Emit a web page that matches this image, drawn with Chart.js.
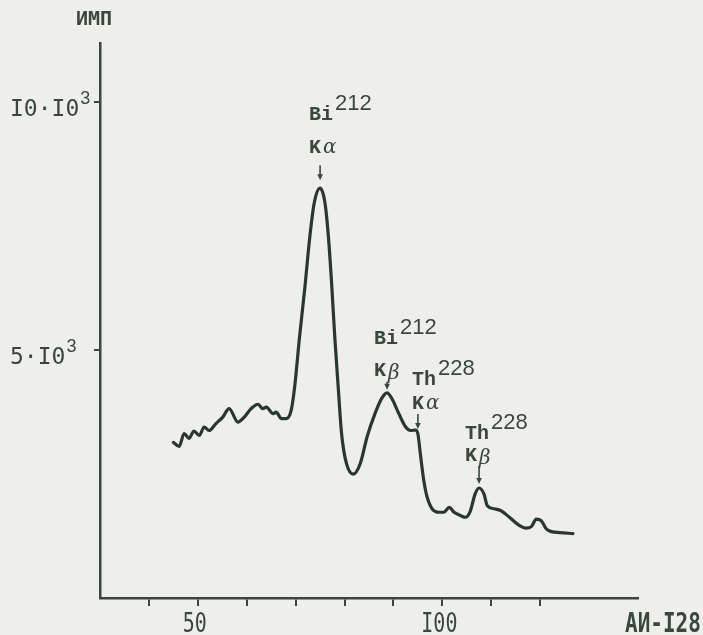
<!DOCTYPE html>
<html>
<head>
<meta charset="utf-8">
<script src="https://cdn.jsdelivr.net/npm/chart.js@4.4.1/dist/chart.umd.min.js"></script>
<style>
  html, body { margin: 0; padding: 0; background: #eeeeec; }
  canvas { display: block; }
</style>
</head>
<body>
<canvas id="spec" width="703" height="635"></canvas>
<script>
'use strict';

/* ──────────────────────────────────────────
   Spectrum (channel → counts)
   ────────────────────────────────────────── */
const energy = [
  45.0, 46.2, 47.2, 48.2, 49.2, 50.3, 51.3, 52.3, 53.7, 55.1,
  56.4, 58.2, 59.5, 60.9, 62.3, 63.3, 64.0, 65.4, 66.0, 67.1,
  68.1, 69.1, 69.8, 70.8, 71.9, 72.9, 73.8, 75.0, 76.0, 76.7,
  77.4, 78.0, 78.7, 79.4, 80.4, 81.8, 83.2, 84.6, 86.3, 87.6,
  88.7, 89.7, 91.1, 92.5, 93.5, 94.5, 95.0, 95.5, 96.2, 96.9,
  97.9, 99.3, 100.3, 101.4, 102.4, 103.8, 104.7, 105.7, 106.7, 107.5,
  108.5, 109.2, 110.6, 112.0, 113.7, 115.8, 117.1, 118.2, 119.2, 120.2,
  121.3, 122.3, 124.0, 126.7
];
const counts = [
  3140, 3060, 3320, 3220, 3370, 3280, 3450, 3380, 3520, 3650,
  3820, 3550, 3650, 3820, 3910, 3820, 3850, 3720, 3750, 3620,
  3620, 3790, 4260, 5270, 6280, 7290, 7970, 8270, 7970, 7290,
  6280, 5270, 4260, 3310, 2710, 2500, 2710, 3250, 3740, 4030,
  4140, 4020, 3720, 3450, 3380, 3390, 3310, 2910, 2370, 2030,
  1800, 1730, 1730, 1830, 1730, 1660, 1630, 1750, 2100, 2220,
  2100, 1860, 1800, 1760, 1630, 1460, 1410, 1440, 1590, 1560,
  1390, 1340, 1320, 1300
];

const xTickValues  = [40, 50, 60, 70, 80, 90, 100, 110, 120];
const xLabelValues = [50, 100];
const xLabelTexts  = ['50', 'I00'];
const yTickValues  = [5000, 10000];
const yLabelTexts  = ['5·I0', 'I0·I0'];
const yLabelPower  = '3';

/* peak annotations */
const peakEnergy  = [75.0, 88.7, 95.0, 107.5];
const peakIsotope = ['Bi', 'Bi', 'Th', 'Th'];
const peakMass    = ['212', '212', '228', '228'];
const peakLine    = ['α', 'β', 'α', 'β'];

/* layout of each annotation (px): text offset, arrow gap/length, line spacing */
const annotLayout = [
  { dx: -11, gap: 8, len: 15, gGap: 12, iGap: 33 },
  { dx: -13, gap: 3, len: 8,  gGap: 6,  iGap: 32 },
  { dx: -6,  gap: 5, len: 15, gGap: 5,  iGap: 24 },
  { dx: -14, gap: 4, len: 18, gGap: 5,  iGap: 22 }
];

const INK   = '#3a473b';
const CURVE = '#2a372c';

const F_TICK  = '23px "DejaVu Sans Mono"';
const F_XTICK = '20px "DejaVu Sans Mono"';
const F_AXIS  = 'bold 21px "DejaVu Sans Mono"';
const F_POW   = '18px "Liberation Sans"';
const F_ANN   = 'bold 20px "Liberation Mono"';
const F_SUP   = '22px "Liberation Sans"';
const F_GREEK = 'italic 20px "DejaVu Serif"';

function put(ctx, s, x, y, font, align, sy) {
  ctx.save();
  ctx.font = font;
  ctx.textAlign = align || 'left';
  ctx.translate(x, y);
  ctx.scale(1, sy || 1);
  ctx.fillText(s, 0, 0);
  ctx.restore();
}

/* ──────────────────────────────────────────
   Labels + arrows, placed through the scales
   ────────────────────────────────────────── */
const inkPlugin = {
  id: 'ink',
  afterDraw(chart) {
    const { ctx, chartArea: a, scales: { x, y } } = chart;
    ctx.save();
    ctx.fillStyle = INK;
    ctx.strokeStyle = INK;
    ctx.textBaseline = 'alphabetic';

    // y tick labels
    yTickValues.forEach((v, i) => {
      const py = y.getPixelForValue(v);
      ctx.font = F_TICK;
      const w = ctx.measureText(yLabelTexts[i]).width;
      put(ctx, yLabelTexts[i], 10, py + 14, F_TICK);
      put(ctx, yLabelPower, 11 + w, py + 2, F_POW);
    });

    // x tick labels
    xLabelValues.forEach((v, i) => {
      put(ctx, xLabelTexts[i], x.getPixelForValue(v) - 3, a.bottom + 34, F_XTICK, 'center', 1.35);
    });

    // axis titles
    put(ctx, 'ИМП', a.left - 6, a.top - 18, 'bold 20px "DejaVu Sans Mono"', 'center');
    put(ctx, 'АИ-I28', a.right - 13, a.bottom + 34, F_AXIS, 'left', 1.3);

    // peak markers
    peakEnergy.forEach((e, i) => {
      const k = energy.indexOf(e);
      const px = x.getPixelForValue(e);
      const py = y.getPixelForValue(counts[k]);
      const L = annotLayout[i];
      const tip = py - L.gap, tail = tip - L.len;

      ctx.lineWidth = 1.6;
      ctx.beginPath();
      ctx.moveTo(px, tail);
      ctx.lineTo(px, tip - 4);
      ctx.stroke();
      ctx.beginPath();
      ctx.moveTo(px - 2.8, tip - 6);
      ctx.lineTo(px + 2.8, tip - 6);
      ctx.lineTo(px, tip);
      ctx.closePath();
      ctx.fill();

      const left = px + L.dx;
      const gBase = tail - L.gGap;
      put(ctx, 'K', left, gBase, F_ANN);
      put(ctx, peakLine[i], left + 14, gBase + (peakLine[i] === 'β' ? 3 : 0), F_GREEK);
      const iBase = gBase - L.iGap;
      put(ctx, peakIsotope[i], left, iBase, F_ANN);
      put(ctx, peakMass[i], left + 26, iBase - 10, F_SUP);
    });

    ctx.restore();
  }
};

new Chart(document.getElementById('spec'), {
  type: 'line',
  data: {
    datasets: [{
      data: energy.map((e, i) => ({ x: e, y: counts[i] })),
      borderColor: CURVE,
      borderWidth: 3.2,
      pointRadius: 0,
      fill: false,
      cubicInterpolationMode: 'monotone',
      borderCapStyle: 'round',
      borderJoinStyle: 'round'
    }]
  },
  options: {
    responsive: false,
    animation: false,
    devicePixelRatio: 1,
    layout: { padding: { left: 94, right: 65, top: 43, bottom: 29 } },
    plugins: { legend: { display: false }, tooltip: { enabled: false } },
    scales: {
      x: {
        type: 'linear', min: 30, max: 140,
        afterBuildTicks: s => { s.ticks = xTickValues.map(v => ({ value: v })); },
        ticks: { display: false },
        grid: { drawOnChartArea: false, tickLength: 8, color: INK, lineWidth: 2 },
        border: { color: INK, width: 2.5 }
      },
      y: {
        min: 0, max: 11200,
        afterBuildTicks: s => { s.ticks = yTickValues.map(v => ({ value: v })); },
        ticks: { display: false },
        grid: { drawOnChartArea: false, tickLength: 6, color: INK, lineWidth: 2 },
        border: { color: INK, width: 2.5 }
      }
    }
  },
  plugins: [inkPlugin]
});
</script>
</body>
</html>
